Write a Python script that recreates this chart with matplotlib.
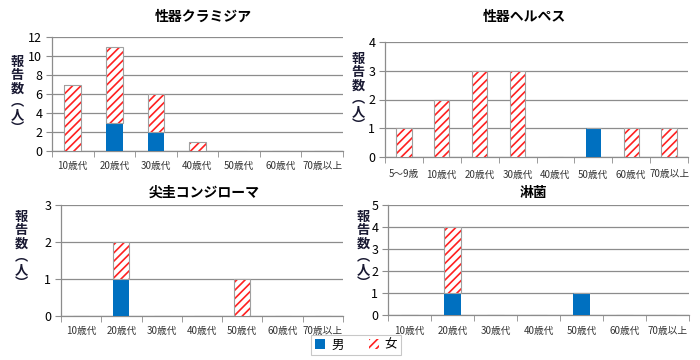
import matplotlib
matplotlib.use("Agg")
import matplotlib.pyplot as plt
import numpy as np

plt.rcParams['font.family'] = ['Noto Sans CJK JP', 'DejaVu Sans']
plt.rcParams['hatch.linewidth'] = 1.2

cats7 = ['10歳代', '20歳代', '30歳代', '40歳代', '50歳代', '60歳代', '70歳以上']
cats8 = ['5～9歳', '10歳代', '20歳代', '30歳代', '40歳代', '50歳代', '60歳代', '70歳以上']

chl_male = [0, 3, 2, 0, 0, 0, 0]
chl_female = [7, 8, 4, 1, 0, 0, 0]
her_male = [0, 0, 0, 0, 0, 1, 0, 0]
her_female = [1, 2, 3, 3, 0, 0, 1, 1]
con_male = [0, 1, 0, 0, 0, 0, 0]
con_female = [0, 1, 0, 0, 1, 0, 0]
gon_male = [0, 1, 0, 0, 1, 0, 0]
gon_female = [0, 3, 0, 0, 0, 0, 0]

titles = ['性器クラミジア', '性器ヘルペス', '尖圭コンジローマ', '淋菌']
ymax = [12, 4, 3, 5]
ystep = [2, 1, 1, 1]

BLUE = '#0070C0'
RED = '#FF2020'
GRID = '#8c8c8c'

fig = plt.figure(figsize=(7, 3.6), dpi=100)

W, H = 700, 360
def rect(l, r, t, b):
    return [l / W, 1 - b / H, (r - l) / W, (b - t) / H]

rects = [rect(52, 343, 37, 151), rect(385, 688, 42, 157),
         rect(61, 343, 205, 316), rect(388, 689, 205, 315)]
data = [(cats7, chl_male, chl_female), (cats8, her_male, her_female),
        (cats7, con_male, con_female), (cats7, gon_male, gon_female)]
title_pos = [(203, 17), (524, 17), (204, 193), (534, 193)]
ylab_pos = [(17, 95), (358, 92), (21, 250), (363, 250)]
xlab_pad = [7, 9, 7, 8]

for i in range(4):
    ax = fig.add_axes(rects[i])
    cats, m, f = data[i]
    x = np.arange(len(cats))
    bw = 0.4
    m = np.array(m); f = np.array(f)
    ax.bar(x, m, bw, color=BLUE, edgecolor='none', zorder=3)
    ax.bar(x, f, bw, bottom=m, color='white', edgecolor=RED, hatch='////',
           linewidth=0, zorder=3)
    ax.bar(x, f, bw, bottom=m, fill=False, edgecolor='#a0a0a0', linewidth=0.8,
           zorder=4)
    ax.set_xlim(-0.5, len(cats) - 0.5)
    ax.set_ylim(0, ymax[i])
    ax.set_yticks(np.arange(0, ymax[i] + 0.01, ystep[i]))
    ax.set_xticks(x)
    ax.set_xticklabels(cats, fontsize=7, color='#333333')
    ax.set_xticks(np.arange(-0.5, len(cats)), minor=True)
    ax.tick_params(axis='x', which='major', length=0, pad=xlab_pad[i])
    ax.tick_params(axis='x', which='minor', length=4, color=GRID, direction='out')
    ax.tick_params(axis='y', length=4, color=GRID, labelsize=9, pad=3)
    ax.grid(axis='y', color=GRID, linewidth=0.9, zorder=0)
    ax.set_axisbelow(True)
    for s in ['top', 'right']:
        ax.spines[s].set_visible(False)
    for s in ['left', 'bottom']:
        ax.spines[s].set_color(GRID)
        ax.spines[s].set_linewidth(0.9)
    tx, ty = title_pos[i]
    fig.text(tx / W, 1 - ty / H, titles[i], ha='center', va='center',
             fontsize=10, fontweight='bold')
    lx, ly = ylab_pos[i]
    fig.text(lx / W, 1 - ly / H, '報\n告\n数\n︵\n人\n︶', ha='center', va='center',
             fontsize=9.5, fontweight='bold', linespacing=0.92, color='#1a1a33')

from matplotlib.patches import Patch
handles = [Patch(facecolor=BLUE, edgecolor='none', label='男'),
           Patch(facecolor='white', edgecolor=RED, hatch='////', linewidth=0, label='女')]
leg = fig.legend(handles=handles, loc='center', bbox_to_anchor=(356 / W, 1 - 345 / H),
                 ncol=2, fontsize=9, frameon=True, fancybox=False, edgecolor='#bbbbbb',
                 handlelength=0.8, handleheight=0.8, columnspacing=2.0,
                 borderpad=0.3, handletextpad=0.5)
leg.get_frame().set_linewidth(0.8)

fig.savefig('out.png', dpi=100)
